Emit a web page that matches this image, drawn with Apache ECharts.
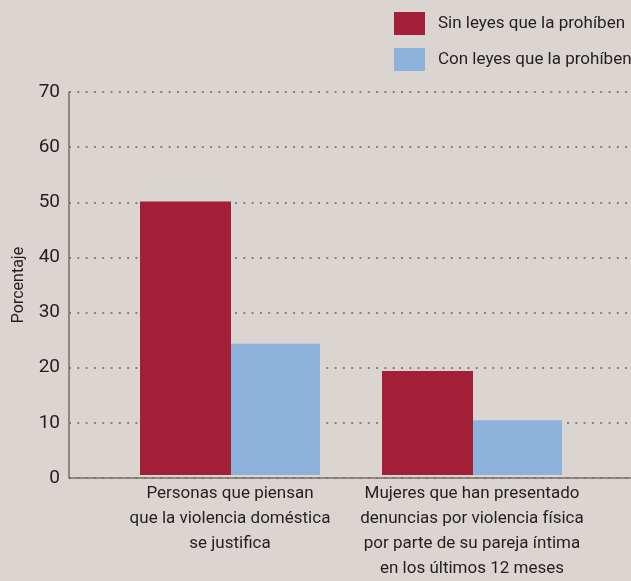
<!DOCTYPE html>
<html>
<head>
<meta charset="utf-8">
<script src="https://cdn.jsdelivr.net/npm/echarts@6/dist/echarts.min.js"></script>
<style>
  html, body { margin: 0; padding: 0; background: #dbd5d1; }
  #chart { width: 631px; height: 581px; }
</style>
</head>
<body>
<div id="chart"></div>
<script>
  // datos
  var categories = [
    'Personas que piensan\nque la violencia doméstica\nse justifica',
    'Mujeres que han presentado\ndenuncias por violencia física\npor parte de su pareja íntima\nen los últimos 12 meses'
  ]
  var seriesNames = ['Sin leyes que la prohíben', 'Con leyes que la prohíben']
  var sinLeyes = [50, 19]
  var conLeyes = [24, 10]

  var font = 'Roboto, "Liberation Sans", sans-serif'
  var textColor = '#231f20'
  var axisColor = '#7a6e62'

  var chart = echarts.init(document.getElementById('chart'))
  chart.setOption({
    backgroundColor: '#dbd5d1',
    textStyle: { fontFamily: font },
    legend: {
      orient: 'vertical',
      left: 394,
      top: 12,
      padding: 0,
      itemWidth: 31,
      itemHeight: 23,
      itemGap: 13,
      icon: 'rect',
      data: seriesNames,
      textStyle: { fontFamily: font, fontSize: 17, color: textColor, padding: [0, 0, 0, 8] }
    },
    grid: [
      // ejes y líneas de fondo
      { left: 69, right: 0, top: 92, bottom: 103 },
      // barras
      { left: 109, right: 38, top: 92, bottom: 103 }
    ],
    xAxis: [
      {
        gridIndex: 0,
        type: 'category',
        data: [''],
        axisLine: { show: true, lineStyle: { color: axisColor, width: 1.5 } },
        axisTick: { show: false },
        axisLabel: { show: false }
      },
      {
        gridIndex: 1,
        type: 'category',
        data: categories,
        axisLine: { show: false },
        axisTick: { show: false },
        axisLabel: {
          interval: 0,
          margin: 6,
          fontFamily: font,
          fontSize: 17,
          lineHeight: 25,
          color: textColor,
          align: 'center'
        }
      }
    ],
    yAxis: [
      {
        gridIndex: 0,
        type: 'value',
        min: 0,
        max: 70,
        interval: 10,
        name: 'Porcentaje',
        nameLocation: 'middle',
        nameGap: 42,
        nameRotate: 90,
        nameTextStyle: { fontFamily: font, fontSize: 16, color: textColor },
        axisLine: { show: true, lineStyle: { color: axisColor, width: 1.5 } },
        axisTick: { show: false },
        axisLabel: { margin: 9, fontFamily: font, fontSize: 19, color: textColor },
        splitLine: {
          show: true,
          lineStyle: { color: '#8a8078', width: 2, type: [2, 6.3] }
        }
      },
      {
        gridIndex: 1,
        type: 'value',
        min: 0,
        max: 70,
        show: false,
        splitLine: { show: false }
      }
    ],
    series: [
      {
        name: seriesNames[0],
        type: 'bar',
        xAxisIndex: 1,
        yAxisIndex: 1,
        barWidth: 91,
        barGap: '0%',
        itemStyle: { color: '#a11f37' },
        data: sinLeyes
      },
      {
        name: seriesNames[1],
        type: 'bar',
        xAxisIndex: 1,
        yAxisIndex: 1,
        barWidth: 89,
        barGap: '0%',
        itemStyle: { color: '#8db2dc' },
        data: conLeyes
      }
    ]
  })
</script>
</body>
</html>
